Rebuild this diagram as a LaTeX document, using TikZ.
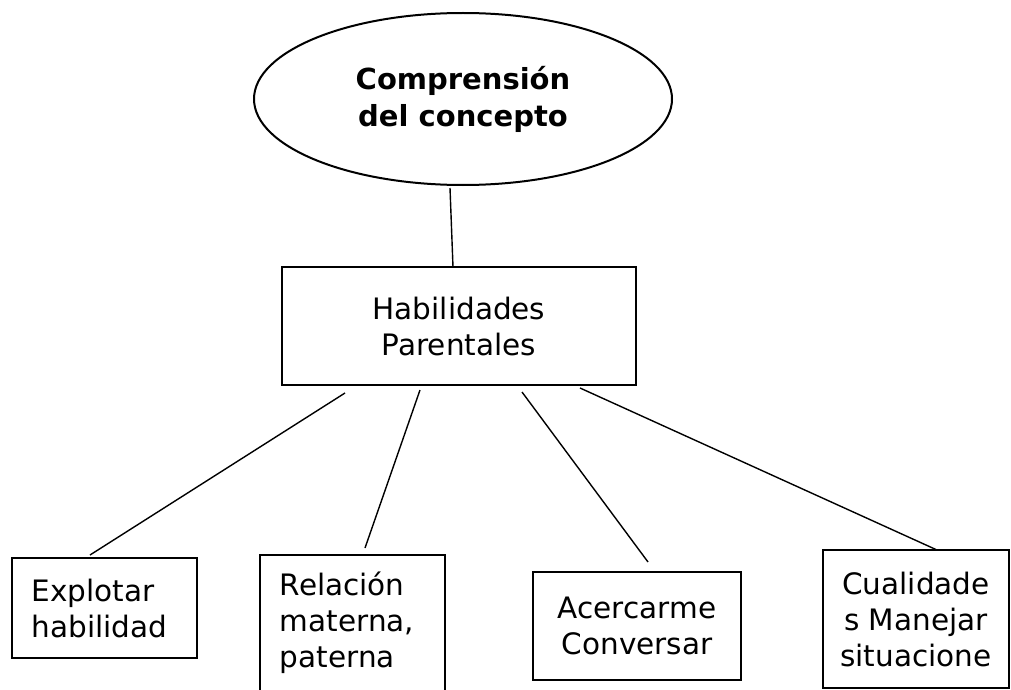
\documentclass[tikz,border=0pt]{standalone}
\usepackage{fontspec}
\setmainfont{DejaVu Sans}
\usetikzlibrary{shapes.geometric}
\begin{document}
\begin{tikzpicture}[x=1pt,y=-1pt,
  box/.style={draw,line width=2pt,inner sep=0pt,outer sep=0pt,font=\fontsize{29.5}{36}\selectfont},
  txt/.style={inner sep=0pt,font=\fontsize{29.5}{36}\selectfont},
  link/.style={line width=1.4pt}]
\useasboundingbox (0,0) rectangle (1011,690);
\clip (0,0) rectangle (1011,690);
\node[draw,ellipse,line width=2pt,inner sep=0pt,minimum width=418,minimum height=172,align=center,font=\fontsize{29}{37}\selectfont\bfseries] (ell) at (463,99) {Comprensión\\del concepto};
\node[box,minimum width=354,minimum height=118,align=center] (hab) at (459,326) {Habilidades\\Parentales};
\node[box,minimum width=185,minimum height=100,align=left] (exp) at (104.5,608) {\hspace*{-10pt}Explotar\\\hspace*{-10pt}habilidad};
\node[box,minimum width=185,minimum height=170] (rel) at (352.5,640) {};
\node[txt,align=left] (relt) at (347,623) {Relación\\materna,\\paterna};
\node[box,minimum width=208,minimum height=108,align=center] (acer) at (637,626) {Acercarme\\Conversar};
\node[box,minimum width=186,minimum height=138,align=center] (cual) at (916,619) {Cualidade\\s Manejar\\situacione};
\draw[link] ([xshift=-13pt,yshift=-2pt]ell.south) -- ([xshift=-6pt]hab.north);
\draw[link] ([xshift=63pt,yshift=-8pt]hab.south west) -- ([xshift=78pt,yshift=3pt]exp.north west);
\draw[link] ([xshift=138pt,yshift=-5pt]hab.south west) -- ([xshift=105pt,yshift=7pt]rel.north west);
\draw[link] ([xshift=240pt,yshift=-7pt]hab.south west) -- ([xshift=115pt,yshift=10pt]acer.north west);
\draw[link] ([xshift=298pt,yshift=-3pt]hab.south west) -- ([xshift=114pt,yshift=0pt]cual.north west);
\end{tikzpicture}
\end{document}
